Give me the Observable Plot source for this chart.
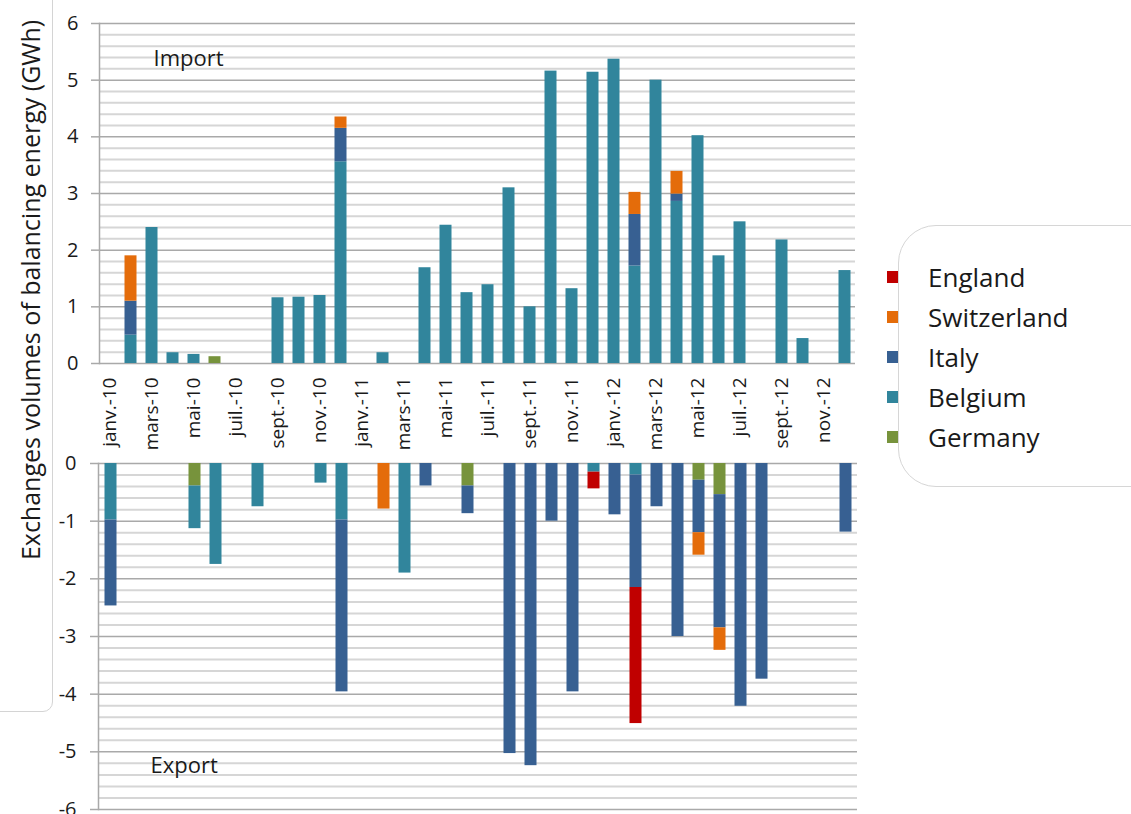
<!DOCTYPE html>
<html>
<head>
<meta charset="utf-8">
<script src="https://cdn.jsdelivr.net/npm/d3@7"></script>
<script src="https://cdn.jsdelivr.net/npm/@observablehq/plot@0.6"></script>
<style>
  html, body { margin: 0; padding: 0; background: #fff; }
  #chart { position: relative; width: 1131px; height: 814px; overflow: hidden;
           font-family: "Open Sans", sans-serif; color: #1a1a1a; }
  #chart svg { position: absolute; left: 0; }
  .ybox { position: absolute; left: -20px; top: -20px; width: 73px; height: 732px;
          border: 1px solid #d4d4d4; border-radius: 10px; box-sizing: border-box; }
  .ylabel { position: absolute; left: 30px; top: 290px; white-space: nowrap;
            transform: translate(-50%, -50%) rotate(-90deg); font-size: 25px; }
  .legend { position: absolute; left: 898px; top: 225px; width: 280px; height: 262px;
            border: 1.5px solid #d6d6d6; border-radius: 38px; box-sizing: border-box; }
  .swatch { position: absolute; left: 887px; width: 11px; height: 12px; }
  .lname { position: absolute; left: 928px; font-size: 26px; line-height: 1;
           transform: translateY(-50%); white-space: nowrap; }
</style>
</head>
<body>
<div id="chart"></div>
<script>
// Months, Jan 2010 – Dec 2012
const months = [
  "janv.-10","févr.-10","mars-10","avr.-10","mai-10","juin-10",
  "juil.-10","août-10","sept.-10","oct.-10","nov.-10","déc.-10",
  "janv.-11","févr.-11","mars-11","avr.-11","mai-11","juin-11",
  "juil.-11","août-11","sept.-11","oct.-11","nov.-11","déc.-11",
  "janv.-12","févr.-12","mars-12","avr.-12","mai-12","juin-12",
  "juil.-12","août-12","sept.-12","oct.-12","nov.-12","déc.-12"
];
// Every other month carries a tick label
const labelledMonths = months.filter((d, i) => i % 2 === 0);

// Stacking order from the zero line outwards
const countries = ["Germany", "Belgium", "Italy", "Switzerland", "England"];
const countryColors = ["#77933C", "#31859C", "#376092", "#E46C0A", "#C00000"];
const legendOrder = ["England", "Switzerland", "Italy", "Belgium", "Germany"];

// Imported balancing energy (GWh)
const importGermany = [
  0, 0, 0, 0, 0, 0.12,   0, 0, 0, 0, 0, 0,
  0, 0, 0, 0, 0, 0,      0, 0, 0, 0, 0, 0,
  0, 0, 0, 0, 0, 0,      0, 0, 0, 0, 0, 0
];
const importBelgium = [
  0, 0.50, 2.40, 0.19, 0.16, 0,      0, 0, 1.16, 1.17, 1.20, 3.56,
  0, 0.19, 0, 1.69, 2.44, 1.25,      1.39, 3.10, 1.00, 5.16, 1.32, 5.14,
  5.37, 1.72, 5.00, 2.86, 4.02, 1.90, 2.50, 0, 2.18, 0.44, 0, 1.64
];
const importItaly = [
  0, 0.60, 0, 0, 0, 0,   0, 0, 0, 0, 0, 0.59,
  0, 0, 0, 0, 0, 0,      0, 0, 0, 0, 0, 0,
  0, 0.91, 0, 0.13, 0, 0, 0, 0, 0, 0, 0, 0
];
const importSwitzerland = [
  0, 0.80, 0, 0, 0, 0,   0, 0, 0, 0, 0, 0.20,
  0, 0, 0, 0, 0, 0,      0, 0, 0, 0, 0, 0,
  0, 0.39, 0, 0.40, 0, 0, 0, 0, 0, 0, 0, 0
];
const importEngland = [
  0, 0, 0, 0, 0, 0,      0, 0, 0, 0, 0, 0,
  0, 0, 0, 0, 0, 0,      0, 0, 0, 0, 0, 0,
  0, 0, 0, 0, 0, 0,      0, 0, 0, 0, 0, 0
];

// Exported balancing energy (GWh, negative)
const exportGermany = [
  0, 0, 0, 0, -0.39, 0,  0, 0, 0, 0, 0, 0,
  0, 0, 0, 0, 0, -0.39,  0, 0, 0, 0, 0, 0,
  0, 0, 0, 0, -0.29, -0.54, 0, 0, 0, 0, 0, 0
];
const exportBelgium = [
  -0.98, 0, 0, 0, -0.74, -1.75,  0, -0.75, 0, 0, -0.34, -0.98,
  0, 0, -1.90, 0, 0, 0,          0, 0, 0, 0, 0, -0.15,
  0, -0.20, 0, 0, 0, 0,          0, 0, 0, 0, 0, 0
];
const exportItaly = [
  -1.49, 0, 0, 0, 0, 0,          0, 0, 0, 0, 0, -2.98,
  0, 0, 0, -0.39, 0, -0.48,      0, -5.03, -5.24, -1.00, -3.96, 0,
  -0.89, -1.95, -0.75, -3.00, -0.91, -2.31,  -4.21, -3.74, 0, 0, 0, -1.19
];
const exportSwitzerland = [
  0, 0, 0, 0, 0, 0,      0, 0, 0, 0, 0, 0,
  0, -0.79, 0, 0, 0, 0,  0, 0, 0, 0, 0, 0,
  0, 0, 0, 0, -0.39, -0.39, 0, 0, 0, 0, 0, 0
];
const exportEngland = [
  0, 0, 0, 0, 0, 0,      0, 0, 0, 0, 0, 0,
  0, 0, 0, 0, 0, 0,      0, 0, 0, 0, 0, -0.29,
  0, -2.36, 0, 0, 0, 0,  0, 0, 0, 0, 0, 0
];

const importSeries = {
  Germany: importGermany, Belgium: importBelgium, Italy: importItaly,
  Switzerland: importSwitzerland, England: importEngland
};
const exportSeries = {
  Germany: exportGermany, Belgium: exportBelgium, Italy: exportItaly,
  Switzerland: exportSwitzerland, England: exportEngland
};

function toRows(series) {
  const rows = [];
  for (const country of countries) {
    series[country].forEach((value, i) => {
      if (value !== 0) rows.push({month: months[i], country, value});
    });
  }
  return rows;
}
const importRows = toRows(importSeries);
const exportRows = toRows(exportSeries);

const FONT = "'Open Sans', sans-serif";
const MAJOR = "#a9a9a9";
const MINOR = "#d6d6d6";
const TEXT = "#1a1a1a";
const color = {domain: countries, range: countryColors};

// Grid positions: major lines every unit, minor every 0.2
const fifths = d3.range(0, 31).map(i => i / 5);
const upperMinor = fifths.filter((d, i) => i % 5 !== 0);
const upperMajor = d3.range(0, 7);
const lowerMinor = upperMinor.map(d => -d);
const lowerMajor = upperMajor.map(d => -d);

const barOptions = {
  x: "month", y: "value", fill: "country", order: countries,
  insetLeft: 4.5, insetRight: 4.5
};

const upper = Plot.plot({
  width: 870, height: 455,
  marginLeft: 99, marginRight: 15, marginTop: 23, marginBottom: 92,
  style: {fontFamily: FONT, background: "transparent", color: TEXT},
  x: {domain: months, padding: 0},
  y: {domain: [0, 6]},
  color,
  marks: [
    Plot.ruleY(upperMinor, {stroke: MINOR, strokeWidth: 2}),
    Plot.ruleY(upperMajor, {stroke: MAJOR, strokeWidth: 1.5}),
    Plot.frame({anchor: "left", stroke: MAJOR, strokeWidth: 1.5}),
    Plot.barY(importRows, Plot.stackY(barOptions)),
    Plot.axisY(upperMajor, {label: null, tickSize: 8, tickPadding: 13, fontSize: 20,
      stroke: MAJOR, strokeWidth: 1.5, fill: TEXT, tickFormat: d => String(d)}),
    Plot.axisX(labelledMonths, {label: null, tickRotate: -90, tickSize: 0, tickPadding: 14,
      fontSize: 19, fill: TEXT}),
    Plot.text(["Import"], {frameAnchor: "top-left", dx: 54, dy: 35,
      textAnchor: "start", lineAnchor: "middle", fontSize: 22, fill: TEXT})
  ]
});

const lower = Plot.plot({
  width: 870, height: 374,
  marginLeft: 98, marginRight: 13, marginTop: 23, marginBottom: 5,
  style: {fontFamily: FONT, background: "transparent", color: TEXT},
  x: {domain: months, padding: 0, axis: null},
  y: {domain: [-6, 0]},
  color,
  marks: [
    Plot.ruleY(lowerMinor, {stroke: MINOR, strokeWidth: 2}),
    Plot.ruleY(lowerMajor, {stroke: MAJOR, strokeWidth: 1.5}),
    Plot.frame({anchor: "left", stroke: MAJOR, strokeWidth: 1.5}),
    Plot.barY(exportRows, Plot.stackY(barOptions)),
    Plot.axisY(lowerMajor, {label: null, tickSize: 8, tickPadding: 14, fontSize: 20,
      stroke: MAJOR, strokeWidth: 1.5, fill: TEXT, tickFormat: d => String(d)}),
    Plot.text(["Export"], {frameAnchor: "top-left", dx: 52, dy: 302,
      textAnchor: "start", lineAnchor: "middle", fontSize: 22, fill: TEXT})
  ]
});

const chart = document.getElementById("chart");
upper.style.top = "0px";
lower.style.top = "440px";

const ybox = document.createElement("div");
ybox.className = "ybox";
chart.appendChild(ybox);
const ylabel = document.createElement("div");
ylabel.className = "ylabel";
ylabel.textContent = "Exchanges volumes of balancing energy (GWh)";
chart.appendChild(ylabel);

chart.appendChild(lower);
chart.appendChild(upper);

// Legend, built from the same colour scale
const legend = document.createElement("div");
legend.className = "legend";
chart.appendChild(legend);
const legendScale = upper.scale("color");
legendOrder.forEach((name, k) => {
  const cy = 277 + 40 * k;
  const sw = document.createElement("div");
  sw.className = "swatch";
  sw.style.top = (cy - 6) + "px";
  sw.style.background = legendScale.apply(name);
  chart.appendChild(sw);
  const label = document.createElement("div");
  label.className = "lname";
  label.style.top = cy + "px";
  label.textContent = name;
  chart.appendChild(label);
});
</script>
</body>
</html>
